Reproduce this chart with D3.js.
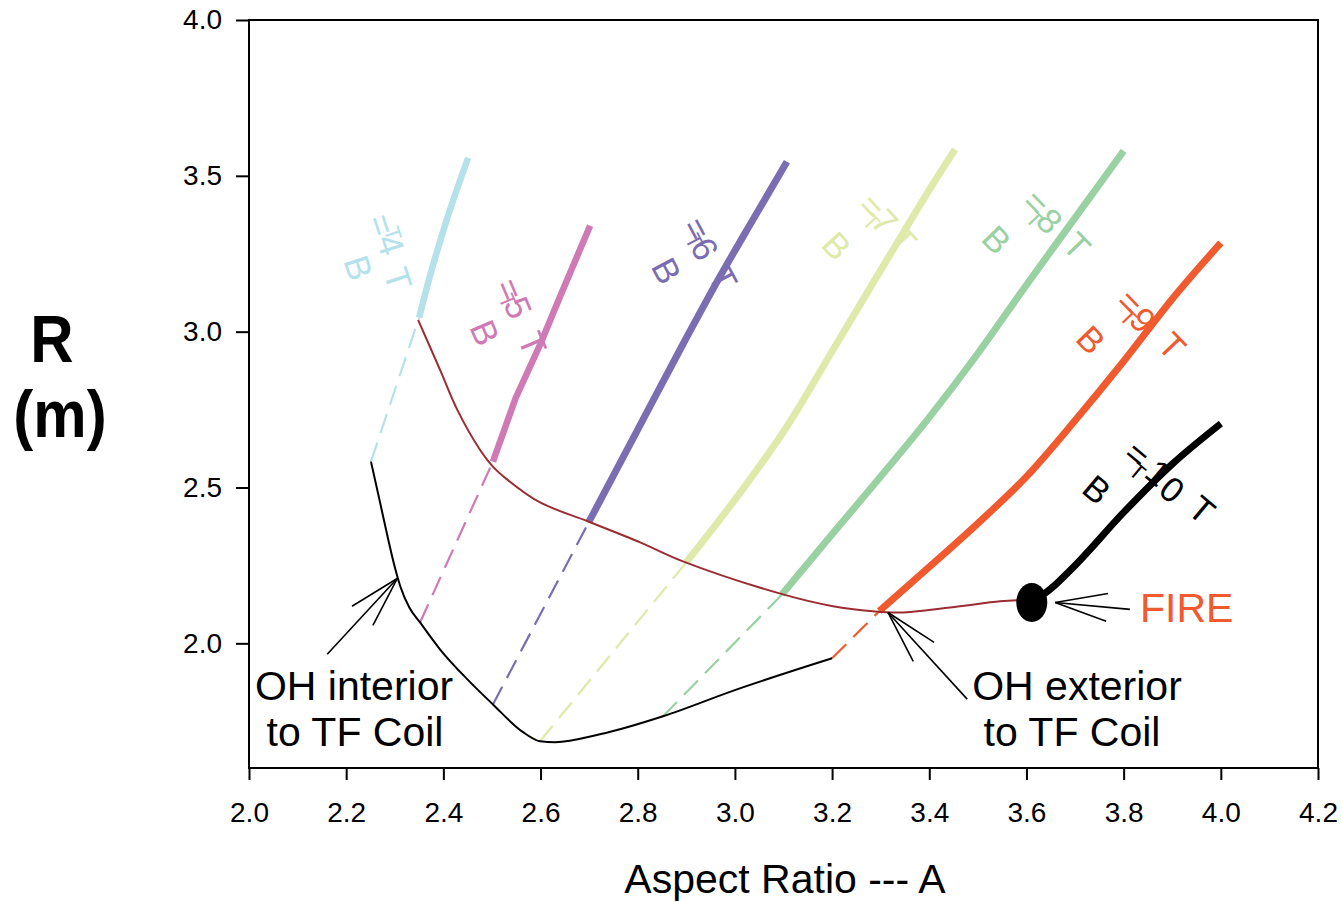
<!DOCTYPE html>
<html>
<head>
<meta charset="utf-8">
<script src="https://cdn.jsdelivr.net/npm/d3@7/dist/d3.min.js"></script>
<style>
  html, body { margin: 0; padding: 0; background: #fff; }
  svg { display: block; font-family: "Liberation Sans", Arial, sans-serif; }
</style>
</head>
<body>
<svg id="chart" width="1342" height="902"></svg>
<script>
// ---------------- data ----------------
const xTicks = [2.0, 2.2, 2.4, 2.6, 2.8, 3.0, 3.2, 3.4, 3.6, 3.8, 4.0, 4.2];
const yTicks = [2.0, 2.5, 3.0, 3.5, 4.0];

// constant-field curves [A, R]; dashed = not allowed, solid = allowed
const b4Dashed = [[2.251, 2.583], [2.350, 3.045]];
const b4Solid  = [[2.350, 3.045], [2.372, 3.176], [2.407, 3.359], [2.451, 3.558]];
const b5Dashed = [[2.352, 2.067], [2.502, 2.583]];
const b5Solid  = [[2.502, 2.583], [2.549, 2.788], [2.599, 2.958], [2.640, 3.112], [2.702, 3.340]];
const b6Dashed = [[2.502, 1.804], [2.700, 2.391]];
const b6Solid  = [[2.700, 2.391], [2.800, 2.686], [2.887, 2.942], [2.969, 3.176], [3.037, 3.359], [3.107, 3.545]];
const b7Dashed = [[2.599, 1.686], [2.900, 2.260]];
const b7Solid  = [[2.900, 2.260], [3.031, 2.526], [3.103, 2.686], [3.202, 2.942], [3.313, 3.231], [3.420, 3.505], [3.453, 3.585]];
const b8Dashed = [[2.852, 1.766], [3.097, 2.157]];
const b8Solid  = [[3.097, 2.157], [3.200, 2.350], [3.300, 2.535], [3.400, 2.725], [3.500, 2.930], [3.600, 3.150], [3.700, 3.365], [3.800, 3.580]];
const b9Dashed = [[3.200, 1.952], [3.297, 2.103]];
const b9Solid  = [[3.297, 2.103], [3.400, 2.245], [3.500, 2.385], [3.600, 2.535], [3.700, 2.715], [3.800, 2.905], [3.900, 3.105], [4.000, 3.285]];
const b10Solid = [[3.611, 2.131], [3.650, 2.175], [3.700, 2.250], [3.800, 2.420], [3.900, 2.575], [4.000, 2.705]];

// OH exterior boundary (brown)
const ohExterior = [[2.348, 3.038], [2.393, 2.878], [2.430, 2.745], [2.475, 2.622], [2.502, 2.567], [2.531, 2.526],
  [2.599, 2.452], [2.698, 2.391], [2.805, 2.324], [2.893, 2.263], [3.099, 2.157], [3.202, 2.119],
  [3.284, 2.103], [3.340, 2.099], [3.443, 2.115], [3.546, 2.135], [3.581, 2.138]];

// OH interior boundary (black)
const ohInterior = [[2.251, 2.583], [2.270, 2.450], [2.287, 2.330], [2.300, 2.245], [2.312, 2.180], [2.330, 2.115],
  [2.352, 2.067], [2.393, 1.981], [2.449, 1.885], [2.502, 1.804], [2.564, 1.715], [2.599, 1.686],
  [2.630, 1.683], [2.722, 1.708], [2.852, 1.766], [3.000, 1.850], [3.200, 1.952]];

const firePoint = [3.611, 2.131];

// ---------------- annotation layout (data units) ----------------
const series = [
  { d: b4Dashed, color: "#b5e1ea", w: 2.2, dash: "20,10" },
  { d: b5Dashed, color: "#d07ab5", w: 2.2, dash: "20,10" },
  { d: b6Dashed, color: "#7b6db2", w: 2.2, dash: "20,10" },
  { d: b7Dashed, color: "#dfe9a9", w: 2.2, dash: "20,10" },
  { d: b8Dashed, color: "#99d1a2", w: 2.2, dash: "20,10" },
  { d: b9Dashed, color: "#f05a2e", w: 2.2, dash: "20,10" },
  { d: b4Solid, color: "#b5e1ea", w: 6.5, curve: "smooth" },
  { d: b5Solid, color: "#d07ab5", w: 6.5, curve: "linear" },
  { d: b6Solid, color: "#7b6db2", w: 7, curve: "smooth" },
  { d: b7Solid, color: "#dfe9a9", w: 7, curve: "smooth" },
  { d: b8Solid, color: "#99d1a2", w: 7, curve: "smooth" },
  { d: b9Solid, color: "#f05a2e", w: 7, curve: "smooth" },
  { d: b10Solid, color: "#000000", w: 7, curve: "smooth" }
];

const labelGroups = [
  { color: "#b5e1ea", rot: 72, chars: [["B", 2.226, 3.205], ["=", 2.274, 3.343], ["4", 2.292, 3.279], ["T", 2.307, 3.170]], sub: [2.296, 3.315] },
  { color: "#d07ab5", rot: 67, chars: [["B", 2.486, 2.997], ["=", 2.537, 3.135], ["5", 2.554, 3.077], ["T", 2.584, 2.962]], sub: [2.532, 3.098] },
  { color: "#7b6db2", rot: 62, chars: [["B", 2.860, 3.196], ["=", 2.922, 3.330], ["6", 2.938, 3.266], ["T", 2.976, 3.170]], sub: [2.916, 3.290] },
  { color: "#dfe9a9", rot: 47, chars: [["B", 3.210, 3.276], ["=", 3.282, 3.401], ["7", 3.309, 3.353], ["T", 3.346, 3.295]], sub: [3.280, 3.352] },
  { color: "#99d1a2", rot: 46, chars: [["B", 3.539, 3.295], ["=", 3.620, 3.413], ["8", 3.648, 3.356], ["T", 3.704, 3.276]], sub: [3.616, 3.360] },
  { color: "#f05a2e", rot: 46, chars: [["B", 3.733, 2.974], ["=", 3.813, 3.093], ["9", 3.840, 3.038], ["T", 3.900, 2.955]], sub: [3.809, 3.045] },
  { color: "#000000", rot: 40, chars: [["B", 3.745, 2.494], ["=", 3.828, 2.606], ["1", 3.871, 2.548], ["0", 3.900, 2.494], ["T", 3.961, 2.429]], sub: [3.828, 2.551] }
];

const arrows = [
  { tip: [2.305, 2.208], tail: [2.161, 1.965], b1: [2.212, 2.119], b2: [2.255, 2.058] },
  { tip: [3.315, 2.099], tail: [3.478, 1.821], b1: [3.410, 2.003], b2: [3.367, 1.942] },
  { tip: [3.659, 2.131], tail: [3.813, 2.109], b1: [3.768, 2.160], b2: [3.764, 2.071] }
];

// ---------------- chart ----------------
const svg = d3.select("#chart");
const x = d3.scaleLinear().domain([2.0, 4.2]).range([249, 1318]);
const y = d3.scaleLinear().domain([1.6, 4.0]).range([768, 20]);

const line = d3.line().x(d => x(d[0])).y(d => y(d[1]));
const mono = d3.line().x(d => x(d[0])).y(d => y(d[1])).curve(d3.curveMonotoneX);
const smooth = d3.line().x(d => x(d[0])).y(d => y(d[1])).curve(d3.curveCatmullRom.alpha(0.5));

// frame
svg.append("rect").attr("x", 249).attr("y", 20).attr("width", 1318 - 249).attr("height", 768 - 20)
  .attr("fill", "none").attr("stroke", "#000").attr("stroke-width", 2);

// axes
const xAxis = svg.append("g").attr("transform", "translate(0,768)")
  .call(d3.axisBottom(x).tickValues(xTicks).tickFormat(d3.format(".1f")).tickSize(12).tickPadding(22).tickSizeOuter(0));
const yAxis = svg.append("g").attr("transform", "translate(249,0)")
  .call(d3.axisLeft(y).tickValues(yTicks).tickFormat(d3.format(".1f")).tickSize(13).tickPadding(14).tickSizeOuter(0));
[xAxis, yAxis].forEach(g => {
  g.select(".domain").remove();
  g.selectAll(".tick line").attr("stroke", "#000").attr("stroke-width", 2);
  g.selectAll(".tick text").attr("fill", "#000").style("font-size", "28px")
    .style("font-family", "'Liberation Sans', Arial, sans-serif");
});

// curves
const plot = svg.append("g");
series.forEach(s => {
  plot.append("path").datum(s.d)
    .attr("d", s.curve === "smooth" ? mono : line)
    .attr("fill", "none").attr("stroke", s.color).attr("stroke-width", s.w)
    .attr("stroke-dasharray", s.dash || null).attr("stroke-linecap", "butt").attr("stroke-linejoin", "round");
});

plot.append("path").datum(ohExterior).attr("d", smooth)
  .attr("fill", "none").attr("stroke", "#9b2d32").attr("stroke-width", 2);
plot.append("path").datum(ohInterior).attr("d", mono)
  .attr("fill", "none").attr("stroke", "#000").attr("stroke-width", 2);

// FIRE point
plot.append("ellipse").attr("cx", x(firePoint[0])).attr("cy", y(firePoint[1]))
  .attr("rx", 15.5).attr("ry", 19.5).attr("fill", "#000");

// arrows
arrows.forEach(a => {
  const g = plot.append("g").attr("stroke", "#000").attr("stroke-width", 1.6).attr("fill", "none");
  [a.tail, a.b1, a.b2].forEach(p => {
    g.append("line").attr("x1", x(a.tip[0])).attr("y1", y(a.tip[1])).attr("x2", x(p[0])).attr("y2", y(p[1]));
  });
});

// B labels (rotated, character by character)
labelGroups.forEach(gp => {
  gp.chars.forEach(c => {
    plot.append("text").text(c[0])
      .attr("transform", `translate(${x(c[1])},${y(c[2])}) rotate(${gp.rot})`)
      .attr("text-anchor", "middle").attr("dominant-baseline", "central")
      .attr("fill", gp.color).style("font-size", "35px");
  });
  plot.append("text").text("T")
    .attr("transform", `translate(${x(gp.sub[0])},${y(gp.sub[1])}) rotate(${gp.rot})`)
    .attr("text-anchor", "middle").attr("dominant-baseline", "central")
    .attr("fill", gp.color).style("font-size", "22px");
});

// text annotations
const ann = svg.append("g").style("font-size", "41px").attr("text-anchor", "middle");
ann.append("text").attr("x", 354).attr("y", 700).text("OH interior");
ann.append("text").attr("x", 355).attr("y", 746).text("to TF Coil");
ann.append("text").attr("x", 1077).attr("y", 700).text("OH exterior");
ann.append("text").attr("x", 1072).attr("y", 746).text("to TF Coil");
ann.append("text").attr("x", 1140).attr("y", 622).attr("text-anchor", "start").attr("fill", "#f05a2e").text("FIRE");

// axis titles
svg.append("text").attr("x", 785).attr("y", 893).attr("text-anchor", "middle")
  .style("font-size", "41px").text("Aspect Ratio --- A");
svg.append("text").attr("transform", "translate(52,362) scale(1,1.1)").attr("text-anchor", "middle")
  .style("font-size", "60px").style("font-weight", "bold").text("R");
svg.append("text").attr("transform", "translate(60,437) scale(1,1.1)").attr("text-anchor", "middle")
  .style("font-size", "60px").style("font-weight", "bold").text("(m)");
</script>
</body>
</html>
